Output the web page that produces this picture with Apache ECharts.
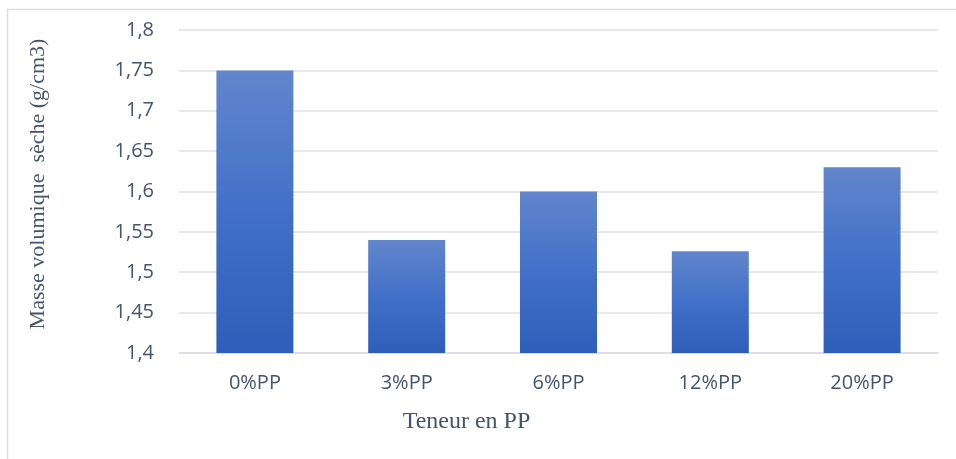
<!DOCTYPE html>
<html>
<head>
<meta charset="utf-8">
<script src="https://cdn.jsdelivr.net/npm/echarts@6/dist/echarts.min.js"></script>
<style>
  html, body { margin: 0; padding: 0; background: #fff; }
  #chart { width: 956px; height: 459px; }
</style>
</head>
<body>
<div id="chart"></div>
<script>
// Dry density by polypropylene content
const categories = ['0%PP', '3%PP', '6%PP', '12%PP', '20%PP'];
const densities = [1.75, 1.54, 1.60, 1.526, 1.63];
const yTicks = { min: 1.4, max: 1.8, step: 0.05 };

const chart = echarts.init(document.getElementById('chart'));

const labelColor = '#44546a';

chart.setOption({
  animation: false,
  graphic: [{
    type: 'polyline',
    shape: { points: [[7.5, 470], [7.5, 9.5], [960, 9.5]] },
    style: { stroke: '#d9dde3', lineWidth: 1.5, fill: null },
    silent: true
  }],
  grid: { left: 179, right: 18, top: 30, bottom: 106 },
  xAxis: {
    type: 'category',
    data: categories,
    name: 'Teneur en PP',
    nameLocation: 'middle',
    nameGap: 57,
    nameTextStyle: {
      fontFamily: 'Liberation Serif', fontSize: 24, color: labelColor,
      padding: [0, 184, 0, 0]
    },
    axisLine: { show: true, lineStyle: { color: '#d9dde3', width: 1.5 } },
    axisTick: { show: false },
    axisLabel: { fontFamily: 'Open Sans', fontSize: 20, color: labelColor, margin: 20 }
  },
  yAxis: {
    type: 'value',
    min: yTicks.min,
    max: yTicks.max,
    interval: yTicks.step,
    name: 'Masse volumique  sèche (g/cm3)',
    nameLocation: 'middle',
    nameGap: 130,
    nameTextStyle: {
      fontFamily: 'Liberation Serif', fontSize: 22, color: labelColor,
      padding: [0, 0, 0, 15]
    },
    axisLine: { show: false },
    axisTick: { show: false },
    splitLine: { lineStyle: { color: '#dfe2e7', width: 1.5 } },
    axisLabel: {
      fontFamily: 'Open Sans', fontSize: 20, color: labelColor, margin: 25,
      formatter: v => String(Math.round(v * 100) / 100).replace('.', ',')
    }
  },
  series: [{
    type: 'bar',
    data: densities,
    barWidth: 77,
    itemStyle: {
      color: new echarts.graphic.LinearGradient(0, 0, 0, 1, [
        { offset: 0, color: '#6286cc' },
        { offset: 0.5, color: '#4270c8' },
        { offset: 1, color: '#2d5eb9' }
      ])
    }
  }]
});
</script>
</body>
</html>
